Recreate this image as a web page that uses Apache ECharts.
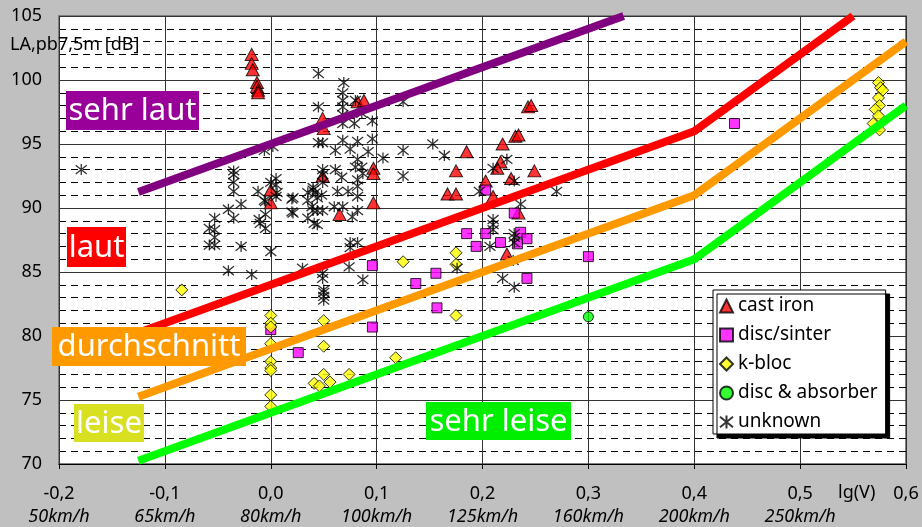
<!DOCTYPE html>
<html>
<head>
<meta charset="utf-8">
<script src="https://cdn.jsdelivr.net/npm/echarts@6/dist/echarts.min.js"></script>
<style>
html,body{margin:0;padding:0;background:#c0c0c0;}
#c{width:922px;height:527px;}
</style>
</head>
<body>
<div id="c"></div>
<script>
// ---------- data (x = lg(V/80km/h), y = LA,pb7,5m [dB]) ----------
const xTickLabels = ['-0,2','-0,1','0,0','0,1','0,2','0,3','0,4','0,5','0,6'];
const speedLabels = ['50km/h','65km/h','80km/h','100km/h','125km/h','160km/h','200km/h','250km/h',''];
const yTicks = [70,75,80,85,90,95,100,105];

const castIron = [
  [-0.018,102.0],[-0.018,101.3],[-0.017,100.8],[-0.013,99.8],[-0.013,99.5],[-0.012,99.2],[-0.012,99.0],
  [0.082,98.3],[0.088,98.4],[0.049,97.0],[0.050,96.2],[0.049,92.5],[0.097,93.1],[0.097,92.7],[0.097,90.4],
  [0.065,89.5],[0.000,91.4],[0.000,90.4],
  [0.243,97.9],[0.246,98.0],[0.231,95.6],[0.234,95.7],[0.219,95.0],[0.185,94.4],[0.217,93.6],[0.214,93.1],
  [0.175,92.9],[0.249,92.9],[0.227,92.3],[0.203,92.1],[0.167,91.1],[0.175,91.1],[0.210,90.9],[0.234,89.6],
  [0.223,86.4]
];
const discSinter = [
  [0.203,91.4],[0.230,89.6],[0.185,88.0],[0.203,88.0],[0.217,87.3],[0.194,87.0],[0.236,88.1],[0.242,87.6],
  [0.233,87.2],[0.156,84.9],[0.137,84.1],[0.242,84.5],[0.300,86.2],[0.096,85.5],[0.157,82.2],[0.096,80.7],
  [0.026,78.7],[0.000,80.5],[0.438,96.6]
];
const kBloc = [
  [-0.084,83.6],[0.000,81.6],[0.000,81.0],[0.000,80.7],[0.000,79.4],[0.000,78.0],[0.000,77.5],[0.000,77.3],
  [0.000,75.4],[0.000,74.5],[0.050,81.2],[0.050,79.2],[0.118,78.3],[0.074,77.0],[0.050,77.0],[0.056,76.4],
  [0.041,76.3],[0.046,76.1],[0.125,85.8],[0.175,86.5],[0.175,85.6],[0.175,81.6],
  [0.574,99.8],[0.576,99.4],[0.578,99.2],[0.574,98.6],[0.575,98.0],[0.571,97.7],[0.574,97.2],[0.569,96.6],[0.575,96.1]
];
const discAbsorber = [[0.300,81.5]];
const unknown = [
  [-0.179,93.0],[-0.035,92.9],[-0.035,92.6],[-0.035,92.0],[-0.035,91.3],[-0.012,91.3],[-0.028,90.3],[-0.040,89.9],
  [-0.035,89.2],[-0.053,89.2],[-0.058,88.4],[-0.053,88.3],[-0.053,87.7],[-0.053,87.1],[-0.058,87.1],[-0.028,87.0],
  [-0.011,89.1],[-0.005,89.5],[-0.005,88.4],[0.000,86.6],[-0.040,85.1],[-0.018,84.8],[0.005,92.3],[0.005,91.8],
  [0.006,91.2],[0.005,90.9],[-0.006,90.6],[0.020,90.7],[0.020,89.7],[0.035,91.2],[0.040,91.4],[0.044,90.8],
  [0.035,89.2],[0.040,89.8],[0.044,88.7],[0.002,94.8],[-0.006,94.5],[0.030,85.3],[0.000,92.0],[-0.005,90.5],
  [0.041,88.8],[-0.010,88.8],
  [0.045,100.5],[0.069,99.8],[0.068,99.0],[0.068,98.4],[0.080,98.4],[0.045,97.9],[0.068,97.9],[0.068,97.3],
  [0.068,96.6],[0.079,96.6],[0.086,97.4],[0.096,96.8],[0.045,95.1],[0.049,95.1],[0.068,95.3],[0.082,95.2],
  [0.096,95.4],[0.061,94.5],[0.075,94.6],[0.092,94.4],[0.106,93.9],[0.125,94.5],[0.125,92.5],[0.125,98.3],
  [0.082,93.8],[0.080,93.2],[0.086,93.2],[0.087,92.7],[0.082,92.2],[0.082,91.7],[0.061,93.0],[0.067,92.4],
  [0.049,93.0],[0.049,92.6],[0.049,92.0],[0.063,91.3],[0.073,91.3],[0.040,91.6],[0.035,90.6],[0.042,91.2],
  [0.048,91.0],[0.039,90.1],[0.044,89.8],[0.049,89.8],[0.060,90.1],[0.068,90.1],[0.077,89.3],[0.082,89.8],
  [0.082,90.9],[0.021,90.8],[0.021,89.6],[0.075,87.3],[0.082,87.3],[0.075,86.9],[0.074,85.4],[0.049,84.9],
  [0.049,84.5],[0.087,84.4],[0.050,83.6],[0.050,83.4],[0.050,83.1],[0.050,82.8],
  [0.153,95.0],[0.164,94.1],[0.210,93.1],[0.223,93.8],[0.230,92.1],[0.270,91.3],[0.197,91.3],[0.236,90.3],
  [0.210,89.1],[0.210,88.7],[0.210,88.3],[0.230,88.0],[0.230,87.7],[0.230,87.3],[0.207,87.0],[0.229,85.9],
  [0.219,84.5],[0.230,83.8],[0.176,85.3]
];
// classification lines: [lg(V), dB]
const lineSehrLaut = [[-0.125,91.25],[0.3333,105]];
const lineLaut = [[-0.125,80.25],[0.4,96],[0.55,105]];
const lineMittel = [[-0.125,75.25],[0.4,91],[0.6,103]];
const lineLeise = [[-0.125,70.25],[0.4,86],[0.6,98]];

const FONT = 'Noto Sans';
const asterisk = 'path://M0,1 L10,9 M0,9 L10,1 M5,0 L5,10';

const chart = echarts.init(document.getElementById('c'), null, {renderer:'canvas'});

function sc(name, data, symbol, size, color, extra) {
  return Object.assign({
    name, type:'scatter', data, symbol, symbolSize:size,
    itemStyle:{color, borderColor:'#000', borderWidth:1},
    z:3
  }, extra || {});
}
function ln(data, color) {
  return {type:'line', data, symbol:'none', silent:true, z:5,
    lineStyle:{color, width:8, cap:'butt'}};
}
function box(x,y,w,h,color,text){
  return {type:'group', z:100, children:[
    {type:'rect', shape:{x, y, width:w, height:h}, style:{fill:color}, z:100},
    {type:'text', x:x+w/2, y:y+h/2+1, z:101, style:{text, fill:'#fff', font:'31px "'+FONT+'"', align:'center', verticalAlign:'middle'}}
  ]};
}

chart.setOption({
  animation:false,
  backgroundColor:'#c0c0c0',
  textStyle:{fontFamily:FONT},
  grid:{left:59, right:16, top:16, bottom:63, show:true, backgroundColor:'#fff', borderColor:'#808080', borderWidth:2},
  xAxis:{
    type:'value', min:-0.2, max:0.6, interval:0.1,
    axisLine:{show:true, onZero:false, lineStyle:{color:'#000', width:1}},
    axisTick:{show:true, length:5, lineStyle:{color:'#000'}},
    splitLine:{show:true, lineStyle:{color:'#333', width:1}},
    axisLabel:{
      margin:18,
      formatter:function(v, i){
        const k = Math.round((v + 0.2) * 10);
        const a = xTickLabels[k];
        const b = speedLabels[k];
        return b ? '{a|' + a + '}\n{b|' + b + '}' : '{a|' + a + '}\n{b| }';
      },
      rich:{
        a:{fontSize:18, fontFamily:FONT, color:'#000', lineHeight:23},
        b:{fontSize:18, fontFamily:FONT, fontStyle:'italic', color:'#000', lineHeight:23}
      }
    }
  },
  yAxis:{
    type:'value', min:70, max:105, interval:5,
    axisLine:{show:false},
    axisTick:{show:false},
    axisLabel:{margin:17, fontSize:18, fontFamily:FONT, color:'#000',
      formatter:function(v){ return yTicks.indexOf(v) >= 0 ? String(v) : ''; }},
    splitLine:{show:true, lineStyle:{color:'#333', width:1}},
    minorTick:{show:false, splitNumber:5},
    minorSplitLine:{show:true, lineStyle:{color:'#000', width:1, type:[7,5]}}
  },
  legend:{
    orient:'vertical', left:713, top:290,
    data:['cast iron','disc/sinter','k-bloc','disc & absorber','unknown'],
    backgroundColor:'#fff', borderColor:'#000', borderWidth:1,
    shadowColor:'#000', shadowBlur:0, shadowOffsetX:4, shadowOffsetY:4,
    padding:[6,8,2,6], itemWidth:13, itemHeight:13, itemGap:9,
    textStyle:{fontSize:19, fontFamily:FONT, color:'#000', lineHeight:20}
  },
  graphic:[
    {type:'text', left:10, top:36, z:50, style:{text:'LA,pb7,5m [dB]', fill:'#000', font:'18px "'+FONT+'"'}},
    {type:'text', left:838, top:484, z:50, style:{text:'lg(V)', fill:'#000', font:'18px "'+FONT+'"'}},
    box(66,91,133,39,'#990099','sehr laut'),
    box(67,227,59,40,'#ff0000','laut'),
    box(52,327,194,39,'#ff9900','durchschnitt'),
    box(74,404,70,38,'#d9e021','leise'),
    box(426,402,145,38,'#00ee00','sehr leise')
  ],
  series:[
    sc('cast iron', castIron, 'triangle', [13,12], '#ff0000'),
    sc('disc/sinter', discSinter, 'rect', 10, '#ff00ff'),
    sc('k-bloc', kBloc, 'diamond', 12, '#ffff00'),
    sc('disc & absorber', discAbsorber, 'circle', 10, '#00ff00'),
    sc('unknown', unknown, asterisk, 11, 'rgba(0,0,0,0)', {itemStyle:{color:'rgba(0,0,0,0)', borderColor:'#000', borderWidth:1.3}}),
    ln(lineSehrLaut, '#800080'),
    ln(lineLaut, '#ff0000'),
    ln(lineMittel, '#ff9900'),
    ln(lineLeise, '#00ff00')
  ]
});
</script>
</body>
</html>
